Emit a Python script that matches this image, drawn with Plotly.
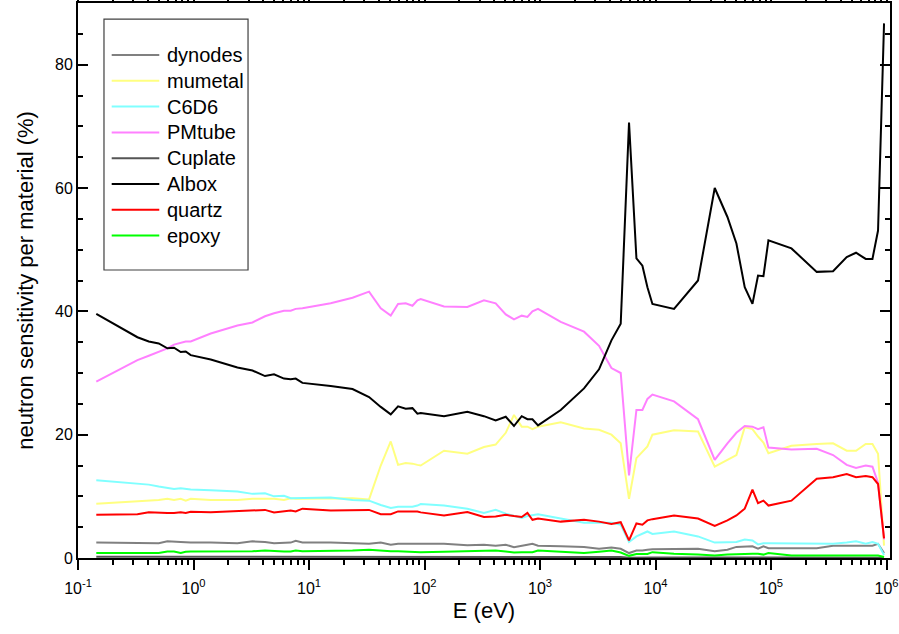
import plotly.graph_objects as go

# Neutron energy grid (eV)
energy_ev = [
    0.144, 0.327, 0.41, 0.50, 0.594, 0.678, 0.775, 0.856, 0.946, 1.41,
    2.40, 3.24, 4.16, 4.98, 6.07, 6.94, 7.67, 8.77, 15.4, 23.8,
    33.1, 41.8, 51.0, 59.0, 68.7, 78.6, 86.8, 92.7, 147.5, 235,
    327, 413, 505, 595, 694, 778, 860, 961, 1511, 2404,
    3242, 4152, 4996, 5897, 6834, 7700, 8510, 9402, 14460, 23330,
    32550, 41930, 50150, 59200, 69040, 77170, 85960, 94950, 150200, 248700,
    344300, 452200, 544300, 660500, 755200, 844300, 951500,
]

# Sensitivity per material (%)
dynodes = [
    2.5, 2.45, 2.5, 2.4, 2.7, 2.6, 2.6, 2.55, 2.5, 2.5,
    2.4, 2.7, 2.6, 2.4, 2.5, 2.5, 2.8, 2.5, 2.5, 2.35,
    2.3, 2.5, 2.15, 2.3, 2.3, 2.3, 2.3, 2.3, 2.3, 2.05,
    2.15, 2.0, 2.15, 1.75, 2.05, 2.15, 2.3, 2.0, 1.9, 1.8,
    1.5, 1.7, 1.5, 0.8, 1.2, 1.2, 1.35, 1.4, 1.45, 1.5,
    1.1, 1.35, 1.8, 1.85, 1.9, 1.5, 1.9, 1.6, 1.6, 1.6,
    2.0, 2.0, 2.0, 1.9, 2.0, 2.3, 0.8,
]
mumetal = [
    8.8, 9.2, 9.2, 9.4, 9.6, 9.4, 9.6, 9.3, 9.6, 9.4,
    9.4, 9.6, 9.6, 9.6, 9.4, 9.7, 9.6, 9.6, 9.6, 9.7,
    9.5, 15.0, 18.9, 15.1, 15.4, 15.3, 15.1, 15.0, 17.4, 16.9,
    18.0, 18.4, 20.3, 23.2, 21.3, 21.3, 20.9, 21.3, 22.0, 21.0,
    20.8, 20.0, 18.6, 9.6, 16.2, 17.2, 18.1, 20.0, 20.7, 20.5,
    14.8, 15.9, 16.7, 21.2, 20.9, 19.7, 18.7, 17.0, 18.2, 18.5,
    18.6, 17.4, 17.4, 18.5, 18.5, 16.9, 2.0,
]
c6d6 = [
    12.6, 12.0, 11.9, 11.6, 11.4, 11.2, 11.3, 11.2, 11.1, 11.0,
    10.8, 10.4, 10.5, 10.0, 10.1, 9.7, 9.7, 9.7, 9.8, 9.4,
    9.3, 8.6, 8.1, 8.3, 8.3, 8.3, 8.5, 8.75, 8.5, 8.0,
    7.3, 7.8, 7.2, 6.9, 6.5, 6.8, 7.0, 7.1, 6.4, 5.7,
    5.7, 5.7, 5.4, 2.6, 3.5, 3.9, 4.3, 3.9, 4.3, 3.5,
    2.5, 2.55, 2.6, 3.0, 2.85, 2.2, 2.4, 2.4, 2.4, 2.3,
    2.3, 2.5, 2.7, 2.3, 2.6, 2.3, 0.5,
]
pmtube = [
    28.6, 32.1, 32.8, 33.5, 34.0, 34.6, 34.9, 35.1, 35.1, 36.4,
    37.7, 38.2, 39.2, 39.7, 40.1, 40.1, 40.4, 40.5, 41.3, 42.2,
    43.2, 40.5, 39.3, 41.2, 41.3, 40.9, 41.8, 42.0, 40.8, 40.7,
    41.8, 41.3, 39.5, 38.7, 39.3, 39.1, 40.0, 40.4, 38.3, 36.7,
    34.4, 30.8, 30.0, 13.4, 24.0, 24.0, 25.8, 26.5, 25.4, 22.5,
    15.9, 18.6, 20.3, 21.4, 21.3, 20.9, 21.2, 17.9, 17.6, 17.7,
    16.7, 15.1, 14.6, 15.0, 14.8, 12.2, 3.0,
]
cuplate = [
    0.2, 0.2, 0.2, 0.2, 0.25, 0.2, 0.2, 0.2, 0.2, 0.2,
    0.2, 0.25, 0.2, 0.2, 0.2, 0.2, 0.25, 0.2, 0.2, 0.2,
    0.2, 0.2, 0.2, 0.2, 0.2, 0.2, 0.2, 0.2, 0.2, 0.2,
    0.2, 0.2, 0.2, 0.15, 0.2, 0.2, 0.2, 0.2, 0.15, 0.15,
    0.15, 0.15, 0.15, 0.05, 0.1, 0.1, 0.1, 0.1, 0.1, 0.1,
    0.1, 0.1, 0.1, 0.1, 0.1, 0.1, 0.1, 0.1, 0.1, 0.1,
    0.1, 0.1, 0.1, 0.1, 0.1, 0.1, 0.05,
]
albox = [
    39.6, 35.8, 35.1, 34.8, 34.0, 34.1, 33.4, 33.5, 32.9, 32.2,
    30.9, 30.4, 29.5, 29.8, 29.1, 29.0, 29.1, 28.4, 27.9, 27.4,
    26.1, 24.5, 23.3, 24.6, 24.2, 24.3, 23.4, 23.5, 23.0, 23.7,
    23.0, 22.3, 22.9, 21.4, 23.0, 22.5, 22.5, 21.5, 24.0, 27.5,
    30.6, 35.3, 38.0, 70.6, 48.6, 47.4, 43.9, 41.2, 40.4, 45.0,
    60.0, 55.3, 51.0, 43.9, 41.2, 45.8, 45.7, 51.5, 50.2, 46.4,
    46.5, 48.8, 49.5, 48.5, 48.5, 53.1, 86.7,
]
quartz = [
    7.0, 7.1, 7.4, 7.3, 7.3, 7.3, 7.4, 7.3, 7.5, 7.4,
    7.55, 7.7, 7.8, 7.4, 7.55, 7.7, 7.55, 8.0, 7.7, 7.7,
    7.8, 7.1, 7.1, 7.55, 7.55, 7.55, 7.55, 7.4, 6.9, 7.45,
    6.65, 6.75, 7.0, 6.8, 6.65, 7.3, 6.2, 6.4, 5.9, 6.2,
    5.9, 5.5, 5.8, 2.85, 5.6, 5.4, 6.1, 6.3, 6.9, 6.4,
    5.2, 6.1, 6.9, 8.0, 11.1, 8.9, 9.3, 8.5, 9.3, 12.85,
    13.1, 13.6, 13.1, 13.3, 13.1, 12.0, 3.2,
]
epoxy = [
    0.8, 0.8, 0.8, 0.8, 1.05, 1.05, 0.8, 1.0, 1.05, 1.05,
    1.05, 1.1, 1.2, 1.1, 1.05, 1.05, 1.2, 1.1, 1.15, 1.2,
    1.35, 1.2, 1.1, 1.1, 1.05, 1.0, 1.0, 0.95, 1.0, 1.05,
    1.1, 1.2, 1.05, 0.9, 0.95, 0.95, 0.95, 1.2, 0.95, 0.8,
    1.0, 1.2, 0.9, 0.35, 0.65, 0.65, 0.65, 0.95, 0.7, 0.55,
    0.4, 0.55, 0.65, 0.65, 0.7, 0.7, 0.55, 0.8, 0.4, 0.4,
    0.4, 0.4, 0.4, 0.4, 0.4, 0.4, 0.15,
]

series = [
    ("dynodes", dynodes, "#808080"),
    ("mumetal", mumetal, "#ffff80"),
    ("C6D6", c6d6, "#80ffff"),
    ("PMtube", pmtube, "#ff80ff"),
    ("Cuplate", cuplate, "#555555"),
    ("Albox", albox, "#000000"),
    ("quartz", quartz, "#ff0000"),
    ("epoxy", epoxy, "#00ff00"),
]

x_major = [0.1, 1, 10, 100, 1e3, 1e4, 1e5, 1e6]
x_major_text = ["10<sup>-1</sup>", "10<sup>0</sup>", "10<sup>1</sup>", "10<sup>2</sup>",
                "10<sup>3</sup>", "10<sup>4</sup>", "10<sup>5</sup>", "10<sup>6</sup>"]
x_minor = [m * d for d in [0.1, 1, 10, 100, 1e3, 1e4, 1e5] for m in range(2, 10)]

FONT = "Arial, Liberation Sans, sans-serif"

fig = go.Figure()
for name, vals, color in series:
    fig.add_trace(go.Scatter(
        x=energy_ev, y=vals, name=name, mode="lines",
        line=dict(color=color, width=2),
    ))

# Boxed key in the upper-left corner (paper coordinates)
KEY_LINE_X0, KEY_LINE_X1, KEY_TEXT_X = 0.0415, 0.1001, 0.1071
KEY_TOP_Y, KEY_STEP = 0.9063, 0.04649
shapes = [dict(
    type="rect", xref="paper", yref="paper",
    x0=0.032, x1=0.2094, y0=0.5189, y1=0.971,
    line=dict(color="#404040", width=1.2), fillcolor="rgba(0,0,0,0)",
    layer="above",
)]
annotations = []
for i, (name, _, color) in enumerate(series):
    yk = KEY_TOP_Y - i * KEY_STEP
    shapes.append(dict(type="line", xref="paper", yref="paper",
                       x0=KEY_LINE_X0, x1=KEY_LINE_X1, y0=yk, y1=yk,
                       line=dict(color=color, width=2)))
    annotations.append(dict(xref="paper", yref="paper", x=KEY_TEXT_X, y=yk,
                            text=name, showarrow=False,
                            xanchor="left", yanchor="middle",
                            font=dict(family=FONT, size=20, color="black")))

fig.update_layout(
    width=899, height=634,
    margin=dict(l=78, r=9, t=3, b=76, autoexpand=False),
    paper_bgcolor="white", plot_bgcolor="white",
    font=dict(family=FONT, color="black", size=16),
    showlegend=False,
    shapes=shapes,
    annotations=annotations,
)

fig.update_xaxes(
    type="log", range=[-1, 6.03], automargin=False,
    tickmode="array", tickvals=x_major, ticktext=x_major_text,
    ticks="outside", ticklen=10, tickwidth=1.5, tickcolor="black",
    minor=dict(tickmode="array", tickvals=x_minor, ticks="outside",
               ticklen=5, tickwidth=1.5, tickcolor="black"),
    showline=True, linecolor="black", linewidth=2, mirror="ticks",
    showgrid=False, zeroline=False,
    tickfont=dict(family=FONT, size=16, color="black"),
    ticklabelstandoff=5,
    title=dict(text="E (eV)", font=dict(family=FONT, size=22, color="black"), standoff=6),
)
fig.update_yaxes(
    range=[0, 90], automargin=False,
    tickmode="linear", tick0=0, dtick=20,
    ticks="inside", ticklen=10, tickwidth=1.5, tickcolor="black",
    minor=dict(dtick=5, ticks="inside", ticklen=5, tickwidth=1.5, tickcolor="black"),
    showline=True, linecolor="black", linewidth=2, mirror="ticks",
    showgrid=False, zeroline=False,
    tickfont=dict(family=FONT, size=16, color="black"),
    ticklabelstandoff=0,
    title=dict(text="neutron sensitivity per material (%)",
               font=dict(family=FONT, size=22, color="black"), standoff=15),
)

fig.write_html("out.html")
